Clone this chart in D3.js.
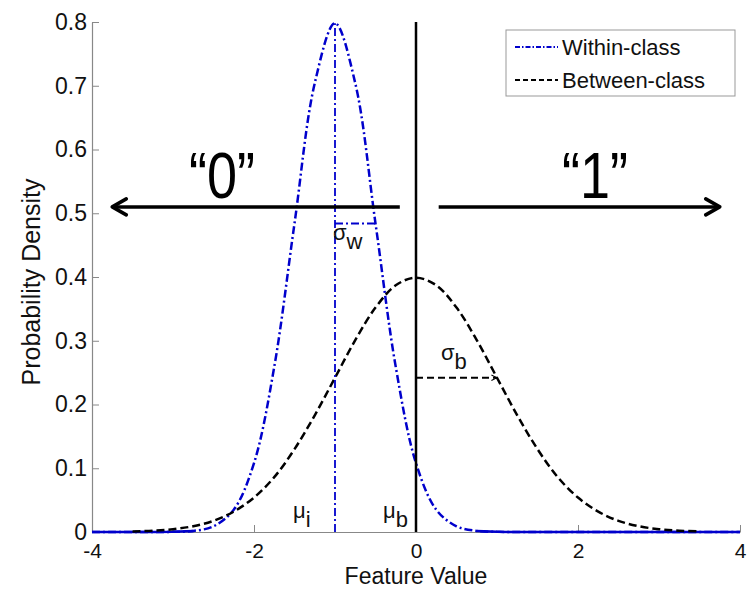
<!DOCTYPE html>
<html>
<head>
<meta charset="utf-8">
<script src="https://cdn.jsdelivr.net/npm/d3@7"></script>
<style>
  body { margin: 0; background: #fff; }
  text { font-family: "Liberation Sans", Arial, sans-serif; }
</style>
</head>
<body>
<div id="chart"></div>
<script>
// x grid shared by both curves
const xWithin = [-4, -3.75, -3.5, -3.25, -3, -2.75, -2.5, -2.25, -2, -1.75, -1.5, -1.25, -1,
  -0.75, -0.5, -0.25, 0, 0.25, 0.5, 0.75, 1, 1.25, 1.5, 1.75, 2, 2.25, 2.5, 2.75, 3, 3.25, 3.5, 3.75, 4];
const yWithin = [0, 0, 0, 0, 0.0003, 0.0017, 0.0089, 0.035, 0.108, 0.259, 0.484, 0.704, 0.798,
  0.704, 0.484, 0.259, 0.108, 0.035, 0.0089, 0.0017, 0.0003, 0, 0, 0, 0, 0, 0, 0, 0, 0, 0, 0, 0];

const xBetween = [-3.5, -3.25, -3, -2.75, -2.5, -2.25, -2, -1.75, -1.5, -1.25, -1, -0.75, -0.5, -0.25,
  0, 0.25, 0.5, 0.75, 1, 1.25, 1.5, 1.75, 2, 2.25, 2.5, 2.75, 3, 3.25, 3.5];
const yBetween = [0.0009, 0.002, 0.0044, 0.0091, 0.0175, 0.032, 0.054, 0.086, 0.13, 0.183, 0.242, 0.301, 0.352, 0.387,
  0.399, 0.387, 0.352, 0.301, 0.242, 0.183, 0.13, 0.086, 0.054, 0.032, 0.0175, 0.0091, 0.0044, 0.002, 0.0009];

const xTicks = [-4, -2, 0, 2, 4];
const yTicks = [0, 0.1, 0.2, 0.3, 0.4, 0.5, 0.6, 0.7, 0.8];

// annotation values
const muWithin = -1, sigmaWithin = 0.5, peakWithin = 0.798;
const muBetween = 0, sigmaBetween = 1, sigmaBetweenY = 0.242, sigmaWithinY = 0.484;
const arrowY = 0.51;
const leftArrow = [-0.2, -3.75];
const rightArrow = [0.28, 3.75];

const width = 751, height = 589;
const margin = { top: 22, right: 11, bottom: 57, left: 92 };

const svg = d3.select("#chart").append("svg")
  .attr("width", width)
  .attr("height", height);

const x = d3.scaleLinear().domain([-4, 4]).range([margin.left, width - margin.right]);
const y = d3.scaleLinear().domain([0, 0.8]).range([height - margin.bottom, margin.top]);

const blue = "#0000cc";
const dashDot = "8,3,2,3";

// arrow markers
const defs = svg.append("defs");
defs.append("marker")
  .attr("id", "head")
  .attr("viewBox", "0 0 10 10")
  .attr("refX", 9).attr("refY", 5)
  .attr("markerWidth", 7).attr("markerHeight", 7)
  .attr("markerUnits", "userSpaceOnUse")
  .attr("orient", "auto")
  .append("path")
  .attr("d", "M1,1 L9,5 L1,9")
  .attr("fill", "none").attr("stroke", "#000").attr("stroke-width", 1.5);
defs.append("marker")
  .attr("id", "bigHead")
  .attr("viewBox", "0 0 20 20")
  .attr("refX", 18).attr("refY", 10)
  .attr("markerWidth", 20).attr("markerHeight", 20)
  .attr("markerUnits", "userSpaceOnUse")
  .attr("orient", "auto")
  .append("path")
  .attr("d", "M4,2 L18,10 L4,18")
  .attr("fill", "none").attr("stroke", "#000").attr("stroke-width", 3.5)
  .attr("stroke-linecap", "round").attr("stroke-linejoin", "round");

// axes (ticks point inward)
const xAxis = svg.append("g")
  .attr("transform", `translate(0,${y(0)})`)
  .call(d3.axisBottom(x).tickValues(xTicks).tickSizeInner(-7).tickSizeOuter(0).tickPadding(11).tickFormat(d => String(d)));
const yAxis = svg.append("g")
  .attr("transform", `translate(${x(-4)},0)`)
  .call(d3.axisLeft(y).tickValues(yTicks).tickSizeInner(-7).tickSizeOuter(0).tickPadding(5)
    .tickFormat(d => d === 0 ? "0" : d3.format(".1f")(d)));
[xAxis, yAxis].forEach(g => {
  g.select(".domain").attr("stroke", "#888").attr("stroke-width", 1.2);
  g.selectAll(".tick line").attr("stroke", "#888");
  g.selectAll(".tick text").attr("font-size", 23).attr("fill", "#111")
    .style("font-family", "Liberation Sans, Arial, sans-serif");
});
xAxis.selectAll(".tick text").attr("dy", "0.71em").attr("font-size", 21);

svg.append("text")
  .attr("x", x(0)).attr("y", 584)
  .attr("text-anchor", "middle")
  .attr("font-size", 23)
  .attr("fill", "#111")
  .text("Feature Value");
svg.append("text")
  .attr("transform", `translate(40,282) rotate(-90)`)
  .attr("text-anchor", "middle")
  .attr("font-size", 25)
  .attr("fill", "#111")
  .text("Probability Density");

const within = xWithin.map((v, i) => ({ x: v, y: yWithin[i] }));
const between = xBetween.map((v, i) => ({ x: v, y: yBetween[i] }));

const line = d3.line().x(d => x(d.x)).y(d => y(d.y)).curve(d3.curveCatmullRom);

// flat tails of the within-class curve render solid
svg.append("path")
  .datum(within)
  .attr("d", d3.line().defined(d => d.y < 0.002).x(d => x(d.x)).y(d => y(d.y)))
  .attr("fill", "none").attr("stroke", blue).attr("stroke-width", 2.5);

svg.append("path")
  .datum(within)
  .attr("d", line)
  .attr("fill", "none").attr("stroke", blue).attr("stroke-width", 2.5)
  .attr("stroke-dasharray", dashDot);

svg.append("path")
  .datum(between)
  .attr("d", line)
  .attr("fill", "none").attr("stroke", "#000").attr("stroke-width", 2.5)
  .attr("stroke-dasharray", "8,4");

// mean of within-class
svg.append("line")
  .attr("x1", x(muWithin)).attr("x2", x(muWithin))
  .attr("y1", y(0)).attr("y2", y(peakWithin))
  .attr("stroke", blue).attr("stroke-width", 1.8).attr("stroke-dasharray", dashDot);
// sigma within
svg.append("line")
  .attr("x1", x(muWithin)).attr("x2", x(muWithin + sigmaWithin))
  .attr("y1", y(sigmaWithinY)).attr("y2", y(sigmaWithinY))
  .attr("stroke", blue).attr("stroke-width", 2).attr("stroke-dasharray", dashDot);
// sigma between
svg.append("line")
  .attr("x1", x(muBetween)).attr("x2", x(muBetween + sigmaBetween))
  .attr("y1", y(sigmaBetweenY)).attr("y2", y(sigmaBetweenY))
  .attr("stroke", "#000").attr("stroke-width", 2).attr("stroke-dasharray", "7,4")
  .attr("marker-end", "url(#head)");

// decision threshold
svg.append("line")
  .attr("x1", x(0)).attr("x2", x(0))
  .attr("y1", y(0)).attr("y2", y(0.8))
  .attr("stroke", "#000").attr("stroke-width", 2.5);

// big class arrows
[leftArrow, rightArrow].forEach(a => {
  svg.append("line")
    .attr("x1", x(a[0])).attr("x2", x(a[1]))
    .attr("y1", y(arrowY)).attr("y2", y(arrowY))
    .attr("stroke", "#000").attr("stroke-width", 3.5)
    .attr("marker-end", "url(#bigHead)");
});
[["\u201c0\u201d", 222], ["\u201c1\u201d", 595]].forEach(([t, cx]) => {
  svg.append("text")
    .attr("x", cx - 33).attr("y", 198)
    .attr("font-size", 64)
    .attr("textLength", 66)
    .attr("lengthAdjust", "spacingAndGlyphs")
    .text(t);
});

// greek labels
function greek(px, py, sym, sub) {
  const t = svg.append("text").attr("x", px).attr("y", py).attr("font-size", 22).attr("fill", "#111");
  t.append("tspan").text(sym);
  t.append("tspan").attr("dy", 9).attr("font-size", 22).text(sub);
}
greek(333, 240, "\u03c3", "w");
greek(441, 360, "\u03c3", "b");
greek(293, 518, "\u03bc", "i");
greek(383, 518, "\u03bc", "b");

// legend
const lg = svg.append("g");
lg.append("rect")
  .attr("x", 506).attr("y", 30).attr("width", 229).attr("height", 66)
  .attr("fill", "#fff").attr("stroke", "#999");
const legendItems = [
  { label: "Within-class", color: blue, dash: "5,2,1.5,2" },
  { label: "Between-class", color: "#000", dash: "5,3" }
];
legendItems.forEach((d, i) => {
  const yy = 47 + i * 33;
  lg.append("line")
    .attr("x1", 515).attr("x2", 558).attr("y1", yy).attr("y2", yy)
    .attr("stroke", d.color).attr("stroke-width", 2).attr("stroke-dasharray", d.dash);
  lg.append("text")
    .attr("x", 562).attr("y", yy + 8)
    .attr("font-size", 22).attr("fill", "#111")
    .text(d.label);
});
</script>
</body>
</html>
